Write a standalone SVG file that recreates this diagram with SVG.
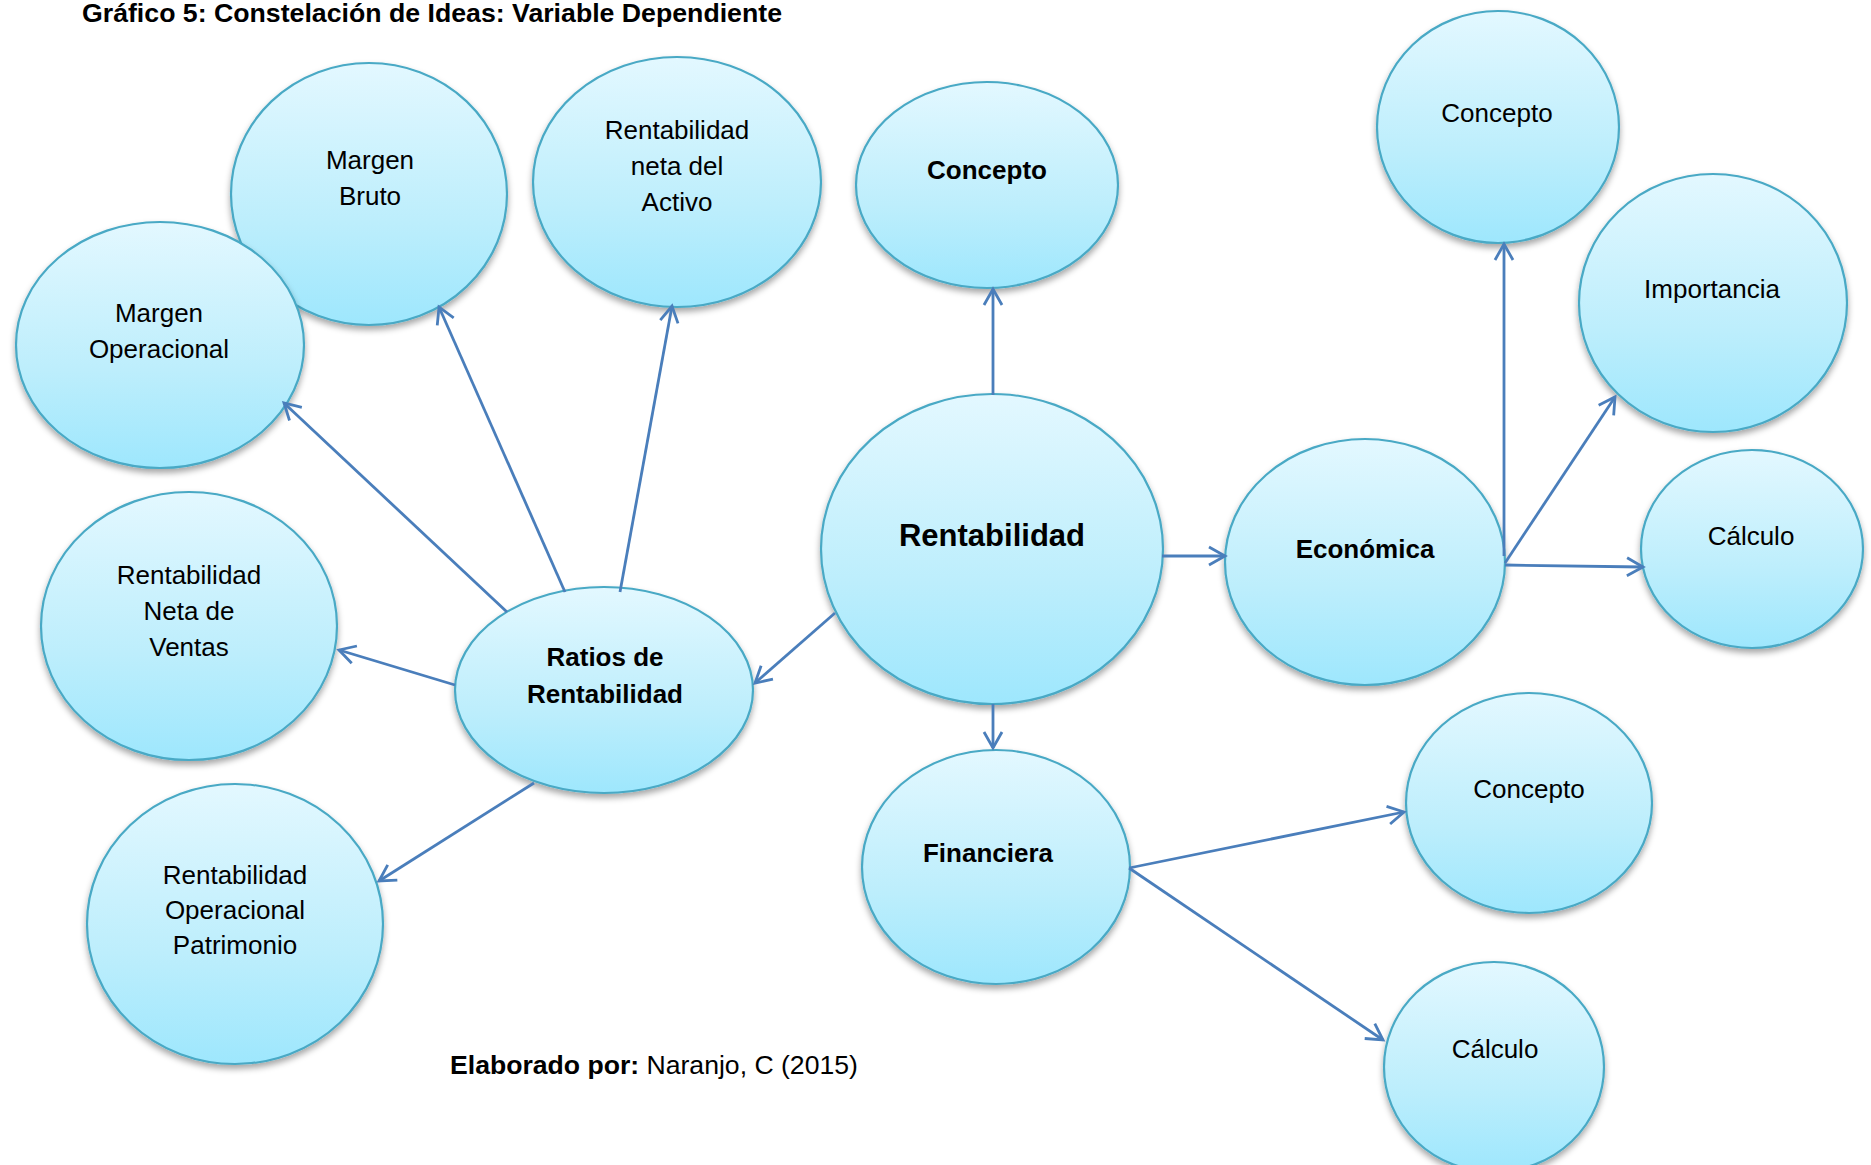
<svg xmlns="http://www.w3.org/2000/svg" width="1871" height="1165" viewBox="0 0 1871 1165">
<defs>
<linearGradient id="g" x1="0" y1="0" x2="0" y2="1">
<stop offset="0" stop-color="#E3F8FF"/>
<stop offset="0.6" stop-color="#BDEEFC"/>
<stop offset="1" stop-color="#9EE7FD"/>
</linearGradient>
<filter id="sh" x="-10%" y="-10%" width="120%" height="125%">
<feDropShadow dx="0" dy="4" stdDeviation="3" flood-color="#000" flood-opacity="0.35"/>
</filter>
<marker id="ah" markerUnits="userSpaceOnUse" markerWidth="40" markerHeight="40" viewBox="-20 -20 40 40" refX="0" refY="0" orient="auto">
<path d="M-16,-9 L0,0 L-16,9" fill="none" stroke="#4A7EBB" stroke-width="2.8"/>
</marker>
</defs>
<style>
.n ellipse{fill:url(#g);stroke:#48A9C5;stroke-width:2.2;filter:url(#sh)}
text{font-family:"Liberation Sans",Arial,sans-serif;fill:#000}
.t{font-size:26px;text-anchor:middle}
.b{font-weight:bold}
.c line{stroke:#4A7EBB;stroke-width:2.8;marker-end:url(#ah)}
</style>
<rect width="1871" height="1165" fill="#fff"/>
<text x="82" y="22" font-size="26" font-weight="bold" textLength="700" lengthAdjust="spacingAndGlyphs">Gráfico 5: Constelación de Ideas: Variable Dependiente</text>
<g id="margen-bruto" class="n"><ellipse cx="369" cy="194" rx="138" ry="131"/><text class="t" x="370" y="169">Margen</text><text class="t" x="370" y="205">Bruto</text></g>
<g id="margen-operacional" class="n"><ellipse cx="160" cy="345" rx="144" ry="123"/><text class="t" x="159" y="322">Margen</text><text class="t" x="159" y="358">Operacional</text></g>
<g id="rent-neta-activo" class="n"><ellipse cx="677" cy="182" rx="144" ry="125"/><text class="t" x="677" y="139">Rentabilidad</text><text class="t" x="677" y="175">neta del</text><text class="t" x="677" y="211">Activo</text></g>
<g id="concepto" class="n"><ellipse cx="987" cy="185" rx="131" ry="103"/><text class="t b" x="987" y="179">Concepto</text></g>
<g id="rent-neta-ventas" class="n"><ellipse cx="189" cy="626" rx="148" ry="134"/><text class="t" x="189" y="584">Rentabilidad</text><text class="t" x="189" y="620">Neta de</text><text class="t" x="189" y="656">Ventas</text></g>
<g id="rent-op-patrimonio" class="n"><ellipse cx="235" cy="924" rx="148" ry="140"/><text class="t" x="235" y="884">Rentabilidad</text><text class="t" x="235" y="919">Operacional</text><text class="t" x="235" y="954">Patrimonio</text></g>
<g id="ratios" class="n"><ellipse cx="604" cy="690" rx="149" ry="103"/><text class="t b" x="605" y="666">Ratios de</text><text class="t b" x="605" y="703">Rentabilidad</text></g>
<g id="rentabilidad" class="n"><ellipse cx="992" cy="549" rx="171" ry="155"/><text class="b" x="992" y="546" font-size="31" text-anchor="middle">Rentabilidad</text></g>
<g id="economica" class="n"><ellipse cx="1365" cy="562" rx="140" ry="123"/><text class="t b" x="1365" y="558">Económica</text></g>
<g id="eco-concepto" class="n"><ellipse cx="1498" cy="127" rx="121" ry="116"/><text class="t" x="1497" y="122">Concepto</text></g>
<g id="eco-importancia" class="n"><ellipse cx="1713" cy="303" rx="134" ry="129"/><text class="t" x="1712" y="298">Importancia</text></g>
<g id="eco-calculo" class="n"><ellipse cx="1752" cy="549" rx="111" ry="99"/><text class="t" x="1751" y="545">Cálculo</text></g>
<g id="financiera" class="n"><ellipse cx="996" cy="867" rx="134" ry="117"/><text class="t b" x="988" y="862">Financiera</text></g>
<g id="fin-concepto" class="n"><ellipse cx="1529" cy="803" rx="123" ry="110"/><text class="t" x="1529" y="798">Concepto</text></g>
<g id="fin-calculo" class="n"><ellipse cx="1494" cy="1067" rx="110" ry="105"/><text class="t" x="1495" y="1058">Cálculo</text></g>
<g id="connectors" class="c">
<line x1="507" y1="612" x2="284" y2="403"/>
<line x1="565" y1="592" x2="439" y2="307"/>
<line x1="620" y1="592" x2="672" y2="306"/>
<line x1="455" y1="685" x2="339" y2="650"/>
<line x1="534" y1="783" x2="379" y2="881"/>
<line x1="835" y1="613" x2="755" y2="683"/>
<line x1="993" y1="395" x2="993" y2="289"/>
<line x1="1162" y1="556" x2="1225" y2="556"/>
<line x1="993" y1="704" x2="993" y2="748"/>
<line x1="1504" y1="556" x2="1504" y2="244"/>
<line x1="1505" y1="563" x2="1615" y2="397"/>
<line x1="1505" y1="565" x2="1643" y2="567"/>
<line x1="1129" y1="868" x2="1404" y2="812"/>
<line x1="1129" y1="868" x2="1383" y2="1040"/>
</g>
<text x="450" y="1074" font-size="26.6"><tspan font-weight="bold">Elaborado por:</tspan> Naranjo, C (2015)</text>
</svg>
